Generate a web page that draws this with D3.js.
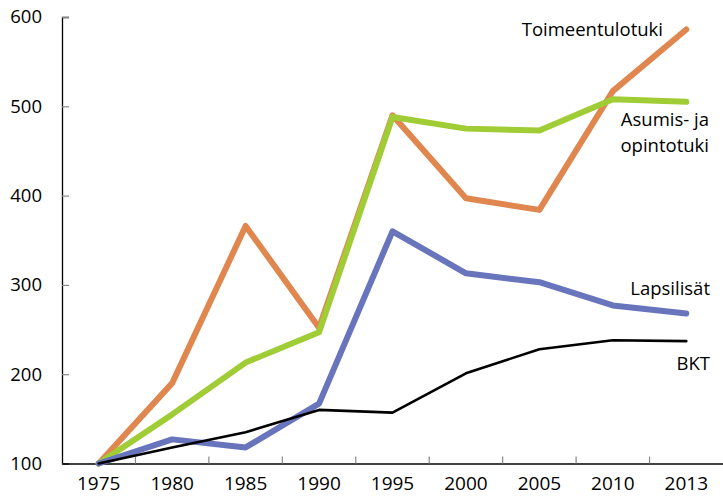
<!DOCTYPE html>
<html><head><meta charset="utf-8">
<script src="https://cdn.jsdelivr.net/npm/d3@7"></script>
<style>body{margin:0;background:#fff;} text{font-family:"Open Sans",sans-serif;}</style>
</head><body><svg id="c" width="723" height="500"></svg>
<script>
const years = ["1975","1980","1985","1990","1995","2000","2005","2010","2013"];
const toimeentulotuki = [100,190,366,252,490,397,384,517,586];
const asumis = [100,155,213,247,488,475,473,508,505];
const lapsilisat = [100,127,118,167,360,313,303,277,268];
const bkt = [100,118,135,160,157,201,228,238,237];
const yTicks = [100,200,300,400,500,600];

const series = [
  {name:"Toimeentulotuki", values:toimeentulotuki, color:"#E0874F", w:6},
  {name:"Asumis", values:asumis, color:"#A0CC35", w:6},
  {name:"Lapsilisät", values:lapsilisat, color:"#6875BD", w:6},
  {name:"BKT", values:bkt, color:"#000000", w:2.6}
];

const svg = d3.select("#c");
const mLeft = 62, mRight = 723, mTop = 17, mBottom = 463.5;
const x = d3.scaleBand().domain(years).range([mLeft, mRight]).padding(0);
const y = d3.scaleLinear().domain([100,600]).range([mBottom, mTop]);

// y axis
const ya = svg.append("g").attr("transform",`translate(${mLeft},0)`)
  .call(d3.axisLeft(y).tickValues(yTicks).tickSize(-7).tickPadding(20));
ya.select(".domain").attr("stroke","#000").attr("stroke-width",1.3);
ya.selectAll(".tick line").attr("stroke","#888").attr("stroke-width",1.2);
ya.selectAll(".tick text").attr("font-size",18.5).attr("fill","#000").attr("font-family","Open Sans");

// x axis
const xa = svg.append("g").attr("transform",`translate(0,${mBottom})`)
  .call(d3.axisBottom(x).tickSize(0).tickPadding(13));
xa.select(".domain").attr("stroke","#000").attr("stroke-width",1.3);
xa.selectAll(".tick text").attr("font-size",19).attr("fill","#000").attr("font-family","Open Sans").attr("dy","0.71em");
svg.append("g").selectAll("line").data(years.slice(1)).join("line")
  .attr("x1",d=>x(d)).attr("x2",d=>x(d)).attr("y1",mBottom).attr("y2",mBottom-7)
  .attr("stroke","#888").attr("stroke-width",1.2);

const line = d3.line().x((d,i)=>x(years[i])+x.bandwidth()/2).y(d=>y(d));
svg.append("g").selectAll("path").data(series).join("path")
  .attr("d",d=>line(d.values)).attr("fill","none")
  .attr("stroke",d=>d.color).attr("stroke-width",d=>d.w)
  .attr("stroke-linejoin","round").attr("stroke-linecap","round");

const labels = [
  {t:"Toimeentulotuki", x:663, y:36},
  {t:"Asumis- ja", x:709, y:126},
  {t:"opintotuki", x:709, y:152},
  {t:"Lapsilisät", x:710, y:295},
  {t:"BKT", x:710, y:370}
];
svg.append("g").selectAll("text").data(labels).join("text")
  .attr("x",d=>d.x).attr("y",d=>d.y).attr("text-anchor","end")
  .attr("font-size",18.5).attr("fill","#000").text(d=>d.t);
</script></body></html>
